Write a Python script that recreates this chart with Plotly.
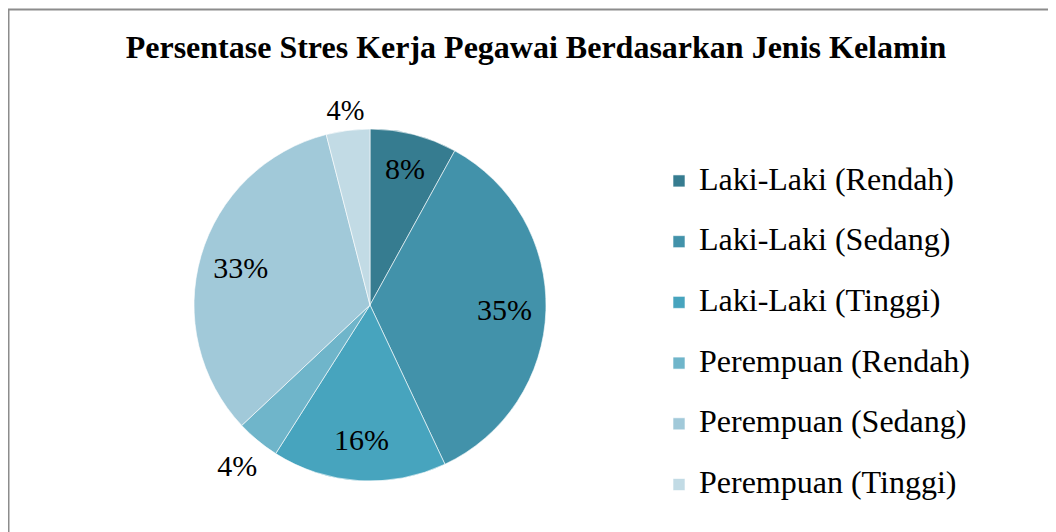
import plotly.graph_objects as go

categories = ["Laki-Laki (Rendah)", "Laki-Laki (Sedang)", "Laki-Laki (Tinggi)",
              "Perempuan (Rendah)", "Perempuan (Sedang)", "Perempuan (Tinggi)"]
values = [8, 35, 16, 4, 33, 4]
colors = ["#367C90", "#4292AA", "#47A4BE", "#6FB5CA", "#A1C9D9", "#C2DBE5"]
title_text = "Persentase Stres Kerja Pegawai Berdasarkan Jenis Kelamin"

W, H = 1056, 532
FONT = "Liberation Serif, Times New Roman, serif"

# pie geometry in figure pixels (page has an 8px body margin)
CX, CY, R = 362, 297, 176


def domain(radius):
    return dict(x=[(CX - radius) / W, (CX + radius) / W],
                y=[max(0, 1 - (CY + radius) / H), 1 - (CY - radius) / H])


total = sum(values)
pct_labels = ["%d%%" % round(v * 100 / total) for v in values]
legend_labels = ['<span style="font-size:32px">%s</span><br> ' % c for c in categories]

fig = go.Figure()
# coloured slices + legend
fig.add_trace(go.Pie(
    labels=legend_labels,
    values=values,
    sort=False,
    direction="clockwise",
    rotation=0,
    marker=dict(colors=colors, line=dict(color="rgba(255,255,255,0.6)", width=1)),
    textinfo="none",
    domain=domain(R),
    hoverinfo="label+percent",
    showlegend=True,
))


def label_layer(indices, radius, hole=0.0):
    """Transparent copy of the pie that only carries the percentage labels."""
    txt = [t if i in indices else "" for i, t in enumerate(pct_labels)]
    return go.Pie(
        labels=categories,
        values=values,
        sort=False,
        direction="clockwise",
        rotation=0,
        hole=hole,
        marker=dict(colors=["rgba(0,0,0,0)"] * len(values), line=dict(width=0)),
        text=txt,
        textinfo="text",
        textposition="inside",
        insidetextorientation="horizontal",
        insidetextfont=dict(family=FONT, size=30, color="black"),
        domain=domain(radius),
        hoverinfo="skip",
        showlegend=False,
    )


# big slices: labels near the rim
fig.add_trace(label_layer([0, 1, 2, 4], R, hole=0.53))
# small slices: labels just outside the rim
fig.add_trace(label_layer([5], 221))
fig.add_trace(label_layer([3], 234.5))

fig.update_layout(
    width=W, height=H,
    margin=dict(l=0, r=0, t=0, b=0),
    paper_bgcolor="white",
    plot_bgcolor="white",
    font=dict(family=FONT, color="black"),
    title=dict(text="<b>%s</b>" % title_text, x=0.5, xanchor="center",
               y=1 - 39 / H, yanchor="middle",
               font=dict(family=FONT, size=32, color="black")),
    legend=dict(x=651 / W, xanchor="left", y=1 - 152 / H, yanchor="top",
                font=dict(family=FONT, size=22.2, color="black"),
                valign="top", bgcolor="rgba(0,0,0,0)", traceorder="normal"),
    shapes=[dict(type="rect", xref="paper", yref="paper",
                 x0=0.5 / W, x1=1.02, y0=-0.02, y1=1 - 1.5 / H,
                 line=dict(color="#8C8C8C", width=2), fillcolor="rgba(0,0,0,0)",
                 layer="below")],
)

fig.write_html("out.html")
